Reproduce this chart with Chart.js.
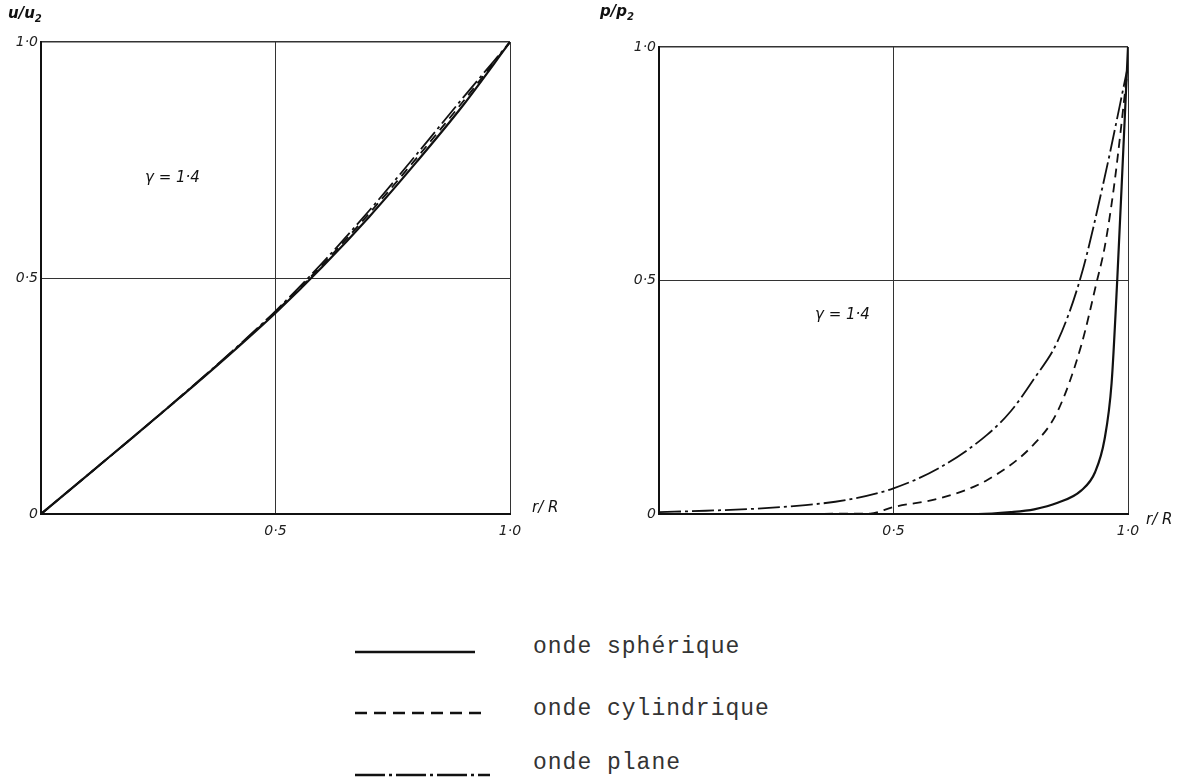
<!DOCTYPE html>
<html>
<head>
<meta charset="utf-8">
<script src="https://cdn.jsdelivr.net/npm/chart.js@4.4.1/dist/chart.umd.min.js"></script>
<style>
  body { margin: 0; background: #fff; width: 1178px; height: 780px; position: relative; overflow: hidden; }
  .box { position: absolute; }
  .lbl { position: absolute; font-family: "DejaVu Sans", sans-serif; font-style: italic; color: #111; white-space: nowrap; }
  .leg { position: absolute; font-family: "Liberation Mono", monospace; font-size: 23px; letter-spacing: 1px; color: #333; white-space: nowrap; }
</style>
</head>
<body>
<canvas id="leftChart" class="box" style="left:0;top:0;" width="560" height="544"></canvas>
<canvas id="rightChart" class="box" style="left:618px;top:0;" width="560" height="544"></canvas>

<div class="lbl" style="left:8px;top:4px;font-size:15px;font-weight:bold;">u/u<sub style="font-size:10px;">2</sub></div>
<div class="lbl" style="left:532px;top:498px;font-size:15px;">r/ R</div>
<div class="lbl" style="left:145px;top:168px;font-size:15px;">γ = 1·4</div>

<div class="lbl" style="left:600px;top:2px;font-size:15px;font-weight:bold;">p/p<sub style="font-size:10px;">2</sub></div>
<div class="lbl" style="left:1146px;top:510px;font-size:15px;">r/ R</div>
<div class="lbl" style="left:815px;top:305px;font-size:15px;">γ = 1·4</div>

<svg class="box" style="left:0;top:600px;" width="1178" height="180">
  <line x1="355" y1="52" x2="475" y2="52" stroke="#111" stroke-width="2.5"/>
  <line x1="355" y1="113" x2="482" y2="113" stroke="#111" stroke-width="2.5" stroke-dasharray="12,7"/>
  <line x1="355" y1="175" x2="490" y2="175" stroke="#111" stroke-width="2.5" stroke-dasharray="30,4,3,4"/>
</svg>
<div class="leg" style="left:533px;top:634px;">onde sphérique</div>
<div class="leg" style="left:533px;top:696px;">onde cylindrique</div>
<div class="leg" style="left:533px;top:750px;">onde plane</div>

<script>
// Shared axis ticks
const xTicks = [0.5, 1.0];
const yTicks = [0, 0.5, 1.0];
const tickLabels = { 0: '0', 0.5: '0·5', 1: '1·0' };
const seriesNames = ['onde sphérique', 'onde cylindrique', 'onde plane'];

// Left panel: u/u2 vs r/R
const uR = [0, 0.1, 0.2, 0.3, 0.4, 0.5, 0.6, 0.7, 0.8, 0.9, 1.0];
const uSpherique = [0, 0.083, 0.166, 0.25, 0.336, 0.426, 0.524, 0.63, 0.745, 0.866, 1.0];
const uCylindrique = [0, 0.083, 0.166, 0.25, 0.337, 0.428, 0.528, 0.637, 0.753, 0.874, 1.0];
const uPlane = [0, 0.083, 0.166, 0.251, 0.338, 0.43, 0.532, 0.643, 0.761, 0.882, 1.0];

// Right panel: p/p2 vs r/R
const pRSpherique = [0, 0.68, 0.75, 0.8, 0.85, 0.9, 0.93, 0.95, 0.965, 0.977, 0.99, 1.0];
const pSpherique = [0, 0, 0.004, 0.01, 0.024, 0.05, 0.09, 0.16, 0.28, 0.5, 0.78, 1.0];
const pRCylindrique = [0, 0.45, 0.5, 0.6, 0.7, 0.8, 0.85, 0.9, 0.934, 0.95, 0.97, 1.0];
const pCylindrique = [0, 0.001, 0.015, 0.034, 0.073, 0.15, 0.22, 0.36, 0.5, 0.57, 0.7, 0.96];
const pRPlane = [0, 0.1, 0.2, 0.3, 0.4, 0.5, 0.6, 0.7, 0.75, 0.8, 0.85, 0.9, 0.95, 1.0];
const pPlane = [0.004, 0.007, 0.011, 0.018, 0.03, 0.055, 0.1, 0.17, 0.22, 0.29, 0.37, 0.51, 0.72, 0.96];

const dashes = [[], [9, 6], [22, 4, 3, 4]];

function pts(xs, ys) {
    return xs.map((x, i) => ({ x: x, y: ys[i] }));
}

function makeDatasets(list) {
    return list.map((d, i) => ({
        label: seriesNames[i],
        data: d,
        borderColor: '#111',
        borderWidth: i === 0 ? 2.2 : 1.8,
        borderDash: dashes[i],
        pointRadius: 0,
        fill: false,
        cubicInterpolationMode: 'monotone'
    }));
}

const tickFont = { family: 'DejaVu Sans', style: 'italic', size: 14 };

function makeOptions(topPad) {
    return {
        responsive: false,
        animation: false,
        devicePixelRatio: 1,
        layout: { padding: { top: topPad, right: 50, left: 0, bottom: 0 } },
        plugins: { legend: { display: false }, tooltip: { enabled: false } },
        scales: {
            x: {
                type: 'linear', min: 0, max: 1,
                afterBuildTicks: (s) => { s.ticks = xTicks.map(v => ({ value: v })); },
                afterFit: (s) => { s.height = 30; },
                ticks: { color: '#222', font: tickFont, padding: 9, callback: v => tickLabels[v] },
                grid: { color: '#333', lineWidth: 1, drawTicks: false },
                border: { color: '#111', width: 2 }
            },
            y: {
                type: 'linear', min: 0, max: 1,
                afterBuildTicks: (s) => { s.ticks = yTicks.map(v => ({ value: v })); },
                afterFit: (s) => { s.width = 41; },
                ticks: { color: '#222', font: tickFont, padding: 3, callback: v => tickLabels[v] },
                grid: { color: (c) => c.tick && c.tick.value === 0 ? 'rgba(0,0,0,0)' : '#333', lineWidth: (c) => c.tick && c.tick.value === 1 ? 1.6 : 1, drawTicks: false },
                border: { color: '#111', width: 2 }
            }
        }
    };
}

new Chart(document.getElementById('leftChart'), {
    type: 'line',
    data: { datasets: makeDatasets([pts(uR, uSpherique), pts(uR, uCylindrique), pts(uR, uPlane)]) },
    options: makeOptions(42)
});

new Chart(document.getElementById('rightChart'), {
    type: 'line',
    data: { datasets: makeDatasets([pts(pRSpherique, pSpherique), pts(pRCylindrique, pCylindrique), pts(pRPlane, pPlane)]) },
    options: makeOptions(47)
});
</script>
</body>
</html>
